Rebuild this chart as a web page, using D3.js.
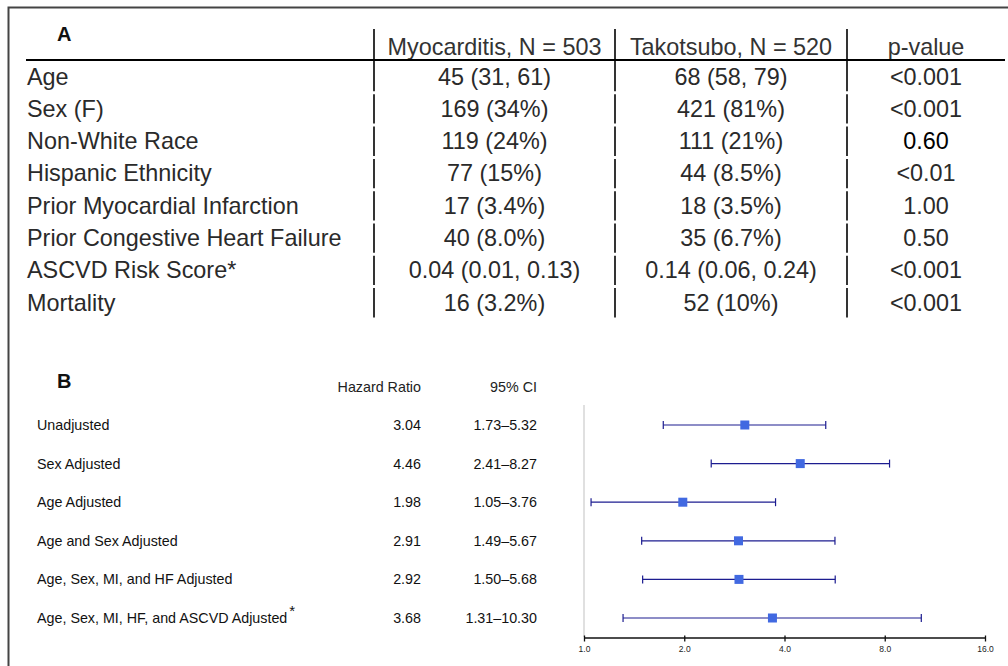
<!DOCTYPE html>
<html><head><meta charset="utf-8">
<script src="https://cdn.jsdelivr.net/npm/d3@7/dist/d3.min.js"></script>
<style>
html,body{margin:0;padding:0;background:#fff;}
svg{display:block;font-family:"Liberation Sans",Arial,Helvetica,sans-serif;}
</style></head>
<body>
<svg id="c" width="1008" height="666"></svg>
<script>
// ---------- Panel A data ----------
const tableHeaders = ["Myocarditis, N = 503", "Takotsubo, N = 520", "p-value"];
const characteristics = ["Age", "Sex (F)", "Non-White Race", "Hispanic Ethnicity",
  "Prior Myocardial Infarction", "Prior Congestive Heart Failure", "ASCVD Risk Score*", "Mortality"];
const myocarditisValues = ["45 (31, 61)", "169 (34%)", "119 (24%)", "77 (15%)",
  "17 (3.4%)", "40 (8.0%)", "0.04 (0.01, 0.13)", "16 (3.2%)"];
const takotsuboValues = ["68 (58, 79)", "421 (81%)", "111 (21%)", "44 (8.5%)",
  "18 (3.5%)", "35 (6.7%)", "0.14 (0.06, 0.24)", "52 (10%)"];
const pValues = ["<0.001", "<0.001", "0.60", "<0.01", "1.00", "0.50", "<0.001", "<0.001"];

// ---------- Panel B data ----------
const models = ["Unadjusted", "Sex Adjusted", "Age Adjusted", "Age and Sex Adjusted",
  "Age, Sex, MI, and HF Adjusted", "Age, Sex, MI, HF, and ASCVD Adjusted"];
const modelFootnote = ["", "", "", "", "", "*"];
const hazardRatios = [3.04, 4.46, 1.98, 2.91, 2.92, 3.68];
const ciLower = [1.73, 2.41, 1.05, 1.49, 1.50, 1.31];
const ciUpper = [5.32, 8.27, 3.76, 5.67, 5.68, 10.30];
const axisTicks = [1, 2, 4, 8, 16];

const svg = d3.select("#c");

// outer frame
svg.append("rect").attr("x", 8.5).attr("y", 7.5).attr("width", 1010).attr("height", 680)
  .attr("fill", "none").attr("stroke", "#444").attr("stroke-width", 2);

// ---------- Panel A ----------
const A = svg.append("g");
A.append("text").attr("x", 57).attr("y", 41).attr("font-size", 20).attr("font-weight", "bold")
  .attr("fill", "#111").text("A");

const colSep = [374, 615, 847];
const colCenters = [494.5, 731, 926];
const headerTop = 29, headerBottom = 60.5;
const rowH = 32.3;
const rowY = d3.scaleLinear().domain([0, 1]).range([headerBottom, headerBottom + rowH]);
const fsA = 23.4;
const txtCol = "#2a2a2a";

// header texts
A.selectAll("text.hdr").data(tableHeaders).join("text").attr("class", "hdr")
  .attr("x", (d, i) => colCenters[i]).attr("y", 55).attr("text-anchor", "middle")
  .attr("font-size", fsA).attr("fill", "#333").text(d => d);

// header line
A.append("line").attr("x1", 26).attr("x2", 1005).attr("y1", 60).attr("y2", 60)
  .attr("stroke", "#000").attr("stroke-width", 2);

// vertical separators (segments per row)
const segs = [];
colSep.forEach(x => {
  segs.push({x, y1: headerTop, y2: rowY(1) - 1.5});
  for (let i = 1; i < characteristics.length; i++) segs.push({x, y1: rowY(i) + 1.5, y2: rowY(i + 1) - 1.5});
});
A.selectAll("line.sep").data(segs).join("line").attr("class", "sep")
  .attr("x1", d => d.x).attr("x2", d => d.x).attr("y1", d => d.y1).attr("y2", d => d.y2)
  .attr("stroke", "#000").attr("stroke-width", 1.6);

const rows = characteristics.map((c, i) => ({c, m: myocarditisValues[i], t: takotsuboValues[i], p: pValues[i], i}));
const rg = A.selectAll("g.row").data(rows).join("g").attr("class", "row");
rg.append("text").attr("x", 27).attr("y", d => rowY(d.i) + 24).attr("font-size", fsA).attr("fill", txtCol).text(d => d.c);
rg.append("text").attr("x", colCenters[0]).attr("y", d => rowY(d.i) + 24).attr("text-anchor", "middle")
  .attr("font-size", fsA).attr("fill", txtCol).text(d => d.m);
rg.append("text").attr("x", colCenters[1]).attr("y", d => rowY(d.i) + 24).attr("text-anchor", "middle")
  .attr("font-size", fsA).attr("fill", txtCol).text(d => d.t);
rg.append("text").attr("x", colCenters[2]).attr("y", d => rowY(d.i) + 24).attr("text-anchor", "middle")
  .attr("font-size", fsA).attr("fill", d => d.p === "0.60" ? "#000" : txtCol).text(d => d.p);

// ---------- Panel B ----------
const B = svg.append("g");
B.append("text").attr("x", 57).attr("y", 388).attr("font-size", 20).attr("font-weight", "bold")
  .attr("fill", "#111").text("B");
const fsB = 14.3;
B.append("text").attr("x", 421).attr("y", 392).attr("text-anchor", "end").attr("font-size", fsB)
  .attr("fill", "#222").text("Hazard Ratio");
B.append("text").attr("x", 537).attr("y", 392).attr("text-anchor", "end").attr("font-size", fsB)
  .attr("fill", "#222").text("95% CI");

const x = d3.scaleLog().base(2).domain([1, 16]).range([584, 985]);
const y = d3.scalePoint().domain(models).range([425, 618]);

const fr = models.map((m, i) => ({m, f: modelFootnote[i], hr: hazardRatios[i], lo: ciLower[i], hi: ciUpper[i]}));

// labels
const lab = B.selectAll("text.lab").data(fr).join("text").attr("class", "lab")
  .attr("x", 37).attr("y", d => y(d.m) + 5).attr("font-size", fsB).attr("fill", "#111");
lab.append("tspan").text(d => d.m);
lab.append("tspan").attr("dx", 2).attr("dy", -7).attr("font-size", 15).text(d => d.f);

B.selectAll("text.hr").data(fr).join("text").attr("class", "hr")
  .attr("x", 421).attr("y", d => y(d.m) + 5).attr("text-anchor", "end").attr("font-size", fsB)
  .attr("fill", "#111").text(d => d.hr.toFixed(2));
B.selectAll("text.ci").data(fr).join("text").attr("class", "ci")
  .attr("x", 537).attr("y", d => y(d.m) + 5).attr("text-anchor", "end").attr("font-size", fsB)
  .attr("fill", "#111").text(d => d.lo.toFixed(2) + "\u2013" + d.hi.toFixed(2));

// reference line at HR = 1
B.append("line").attr("x1", x(1)).attr("x2", x(1)).attr("y1", 405).attr("y2", 637)
  .attr("stroke", "#e0e0e0").attr("stroke-width", 2);

// axis
const ax = B.append("g").attr("transform", "translate(0,637.5)")
  .call(d3.axisBottom(x).tickValues(axisTicks).tickFormat(d3.format(".1f")).tickSize(4).tickSizeOuter(0));
ax.select(".domain").attr("stroke", "#111").attr("stroke-width", 1.3);
ax.selectAll(".tick line").attr("stroke", "#111").attr("stroke-width", 1.3).attr("y1", -2);
ax.selectAll(".tick text").attr("font-size", 8.5).attr("fill", "#222")
  .attr("font-family", "'Liberation Sans',Arial,sans-serif").attr("dy", "0.9em");

// CI lines
const lineCol = "#1c1c90";
const ci = B.selectAll("g.ciline").data(fr).join("g").attr("class", "ciline");
ci.append("line").attr("x1", d => x(d.lo)).attr("x2", d => x(d.hi)).attr("y1", d => y(d.m)).attr("y2", d => y(d.m))
  .attr("stroke", lineCol).attr("stroke-width", 1.2);
ci.append("line").attr("x1", d => x(d.lo)).attr("x2", d => x(d.lo)).attr("y1", d => y(d.m) - 4).attr("y2", d => y(d.m) + 4)
  .attr("stroke", lineCol).attr("stroke-width", 1.2);
ci.append("line").attr("x1", d => x(d.hi)).attr("x2", d => x(d.hi)).attr("y1", d => y(d.m) - 4).attr("y2", d => y(d.m) + 4)
  .attr("stroke", lineCol).attr("stroke-width", 1.2);
ci.append("rect").attr("x", d => x(d.hr) - 4.5).attr("y", d => y(d.m) - 4.5).attr("width", 9).attr("height", 9)
  .attr("fill", "#4169e1");
</script>
</body></html>
